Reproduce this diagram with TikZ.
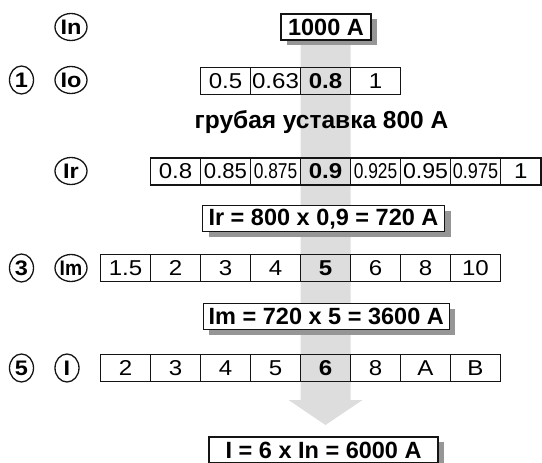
\documentclass[tikz,border=0pt]{standalone}
\usepackage{fontspec}
\setmainfont{Liberation Sans}
\newfontfamily\cellfont{Liberation Sans}[FakeStretch=1.12]
\usepackage{graphicx}
\usetikzlibrary{positioning,shapes.geometric,shadows,backgrounds}
\definecolor{arrowgray}{RGB}{221,221,221}
\definecolor{shadowgray}{RGB}{150,150,150}
\definecolor{linegray}{RGB}{20,20,20}

\begin{document}
\begin{tikzpicture}[
  x=1pt, y=-1pt,
  node distance=0pt,
  cell/.style={rectangle, draw=linegray, line width=1.3pt, minimum width=50pt, minimum height=27pt, inner sep=0pt, outer sep=0pt, font=\cellfont\fontsize{21.5}{21.5}\selectfont},
  hot/.style={cell, font=\cellfont\fontsize{21.5}{21.5}\selectfont\bfseries},
  circ/.style={ellipse, draw=linegray, line width=1.3pt, minimum width=24pt, minimum height=28pt, inner sep=0pt, font=\cellfont\fontsize{21}{21}\selectfont\bfseries},
  wcirc/.style={circ, minimum width=32pt, minimum height=27pt},
  result/.style={rectangle, draw=linegray, line width=1.3pt, fill=white, minimum height=26pt, inner sep=0pt, font=\fontsize{23.5}{23.5}\selectfont\bfseries, drop shadow={shadow xshift=6pt, shadow yshift=-5pt, fill=shadowgray, opacity=1}},
  note/.style={font=\fontsize{24.5}{24.5}\selectfont\bfseries},
]

\useasboundingbox (0,0) rectangle (542,463);

% === Row In ===
\node[wcirc] (cIn) at (71,27) {In};
\node[result, minimum width=90pt] (inA) at (326,27) {1000 A};

% === Row Io ===
\node[circ] (cOne) at (21.5,80) {1};
\node[wcirc] (cIo) at (71,80) {Io};
\node[cell, anchor=west] (io1) at (200.5,81) {0.5};
\node[cell, right=of io1] (io2) {0.63};
\node[hot, right=of io2] (io3) {0.8};
\node[cell, right=of io3] (io4) {1};

\node[note] (coarse) at (321.5,122) {грубая уставка 800 A};

% === Row Ir ===
\node[wcirc] (cIr) at (71,171) {Ir};
\node[cell, anchor=west] (ir1) at (150.5,171.5) {0.8};
\node[cell, right=of ir1] (ir2) {\scalebox{0.92}[1]{0.85}};
\node[cell, right=of ir2] (ir3) {\scalebox{0.72}[1]{0.875}};
\node[hot, right=of ir3] (ir4) {0.9};
\node[cell, right=of ir4] (ir5) {\scalebox{0.72}[1]{0.925}};
\node[cell, right=of ir5] (ir6) {\scalebox{0.96}[1]{0.95}};
\node[cell, right=of ir6] (ir7) {\scalebox{0.75}[1]{0.975}};
\node[cell, right=of ir7, minimum width=40.5pt] (ir8) {1};

\node[result, minimum width=242pt] (irRes) at (323.5,218.7) {Ir = 800 x 0,9 = 720 A};

% === Row Im ===
\node[circ] (cThree) at (21.5,268) {3};
\node[wcirc] (cIm) at (71,268) {\scalebox{0.82}[1]{Im}};
\node[cell, anchor=west] (im1) at (100.5,268) {1.5};
\node[cell, right=of im1] (im2) {2};
\node[cell, right=of im2] (im3) {3};
\node[cell, right=of im3] (im4) {4};
\node[hot, right=of im4] (im5) {5};
\node[cell, right=of im5] (im6) {6};
\node[cell, right=of im6] (im7) {8};
\node[cell, right=of im7] (im8) {10};

\node[result, minimum width=246pt] (imRes) at (326.3,316.5) {Im = 720 x 5 = 3600 A};

% === Row I ===
\node[circ] (cFive) at (21.5,368) {5};
\node[circ] (cI) at (67,368) {I};
\node[cell, anchor=west] (ii1) at (100.5,368) {2};
\node[cell, right=of ii1] (ii2) {3};
\node[cell, right=of ii2] (ii3) {4};
\node[cell, right=of ii3] (ii4) {5};
\node[hot, right=of ii4] (ii5) {6};
\node[cell, right=of ii5] (ii6) {8};
\node[cell, right=of ii6] (ii7) {A};
\node[cell, right=of ii7] (ii8) {B};

\node[result, minimum width=229pt] (iRes) at (323.6,450) {I = 6 x In = 6000 A};

% === Big arrow behind the selected column ===
\begin{pgfonlayer}{background}
\fill[arrowgray] (300.5,27) -- (350.5,27) -- (350.5,400) -- (362.5,400) -- (325.5,425)
  -- (288.5,400) -- (300.5,400) -- cycle;
\end{pgfonlayer}

\end{tikzpicture}
\end{document}
